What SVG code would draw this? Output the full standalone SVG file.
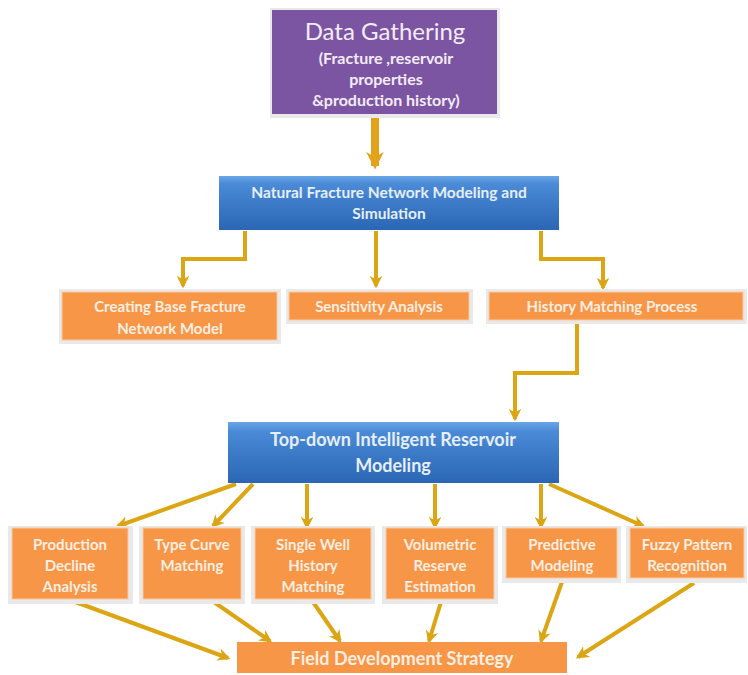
<svg xmlns="http://www.w3.org/2000/svg" width="748" height="675" viewBox="0 0 748 675">
<defs>
<linearGradient id="blue" x1="0" y1="0" x2="0" y2="1">
<stop offset="0" stop-color="#6aa6e6"/>
<stop offset="0.15" stop-color="#4a8ad6"/>
<stop offset="1" stop-color="#2a66b4"/>
</linearGradient>
<marker id="ah" viewBox="0 0 10 10" refX="8" refY="5" markerWidth="3.2" markerHeight="3.2" orient="auto" markerUnits="strokeWidth">
<path d="M0,0 L10,5 L0,10 L3,5 z" fill="#dca514"/>
</marker>
<marker id="ahb" viewBox="0 0 10 10" refX="8" refY="5" markerWidth="2.2" markerHeight="2.2" orient="auto" markerUnits="strokeWidth">
<path d="M0,0 L10,5 L0,10 L3,5 z" fill="#e2a21a"/>
</marker>
</defs>
<style>
.sh{fill:#e9e9e9}
.or{fill:#f79646;stroke:#fbc9a3;stroke-width:1}
.bl{fill:url(#blue)}
.t{font-family:Lato,"Open Sans",sans-serif;font-weight:bold;text-anchor:middle;fill:#fdeee2;font-size:15px}
.tb{font-family:Lato,"Open Sans",sans-serif;font-weight:bold;text-anchor:middle;fill:#e6eef8}
.tp{font-family:Lato,"Open Sans",sans-serif;font-weight:bold;text-anchor:middle;fill:#f3ecf8;font-size:16px}
.c{fill:none;stroke:#dca514;stroke-width:4;marker-end:url(#ah)}
</style>
<rect width="748" height="675" fill="#ffffff"/>

<g id="connectors">
<line x1="375" y1="116" x2="375" y2="166" stroke="#e2a21a" stroke-width="8" marker-end="url(#ahb)"/>
<polyline class="c" points="245,231 245,259 183,259 183,286"/>
<polyline class="c" points="376,231 376,286"/>
<polyline class="c" points="541,231 541,259 603,259 603,288"/>
<polyline class="c" points="577,321 577,373 515,373 515,419"/>
<line class="c" x1="236" y1="484" x2="118" y2="526"/>
<line class="c" x1="253" y1="484" x2="213" y2="526"/>
<line class="c" x1="307" y1="484" x2="307" y2="527"/>
<line class="c" x1="435" y1="484" x2="435" y2="527"/>
<line class="c" x1="541" y1="484" x2="541" y2="527"/>
<line class="c" x1="549" y1="484" x2="643" y2="526"/>
<line class="c" x1="70" y1="600" x2="228" y2="658"/>
<line class="c" x1="211" y1="600" x2="270" y2="641"/>
<line class="c" x1="313" y1="602" x2="340" y2="641"/>
<line class="c" x1="441" y1="602" x2="429" y2="641"/>
<line class="c" x1="562" y1="582" x2="541" y2="641"/>
<line class="c" x1="694" y1="583" x2="578" y2="657"/>
</g>

<g id="data-gathering">
<rect x="270" y="8" width="230" height="110" class="sh"/>
<rect x="272" y="10" width="225" height="104" fill="#7c55a2"/>
<text x="385" y="40" font-family="Lato,'Open Sans',sans-serif" font-size="24" text-anchor="middle" fill="#f3ecf8">Data Gathering</text>
<text x="386" y="64" class="tp">(Fracture ,reservoir</text>
<text x="386" y="85" class="tp">properties</text>
<text x="386" y="106" class="tp">&amp;production history)</text>
</g>

<g id="nfn-modeling">
<rect x="219" y="176" width="340" height="54" class="bl"/>
<text x="389" y="198" class="tb" font-size="15.5">Natural Fracture Network Modeling and</text>
<text x="389" y="219" class="tb" font-size="15.5">Simulation</text>
</g>

<g id="creating-base">
<rect x="59" y="289" width="222" height="55" class="sh"/>
<rect x="62" y="292" width="215" height="48" class="or"/>
<text x="170" y="312" class="t">Creating Base Fracture</text>
<text x="170" y="334" class="t">Network Model</text>
</g>

<g id="sensitivity">
<rect x="286" y="289" width="187" height="35" class="sh"/>
<rect x="289" y="292" width="180" height="28" class="or"/>
<text x="379" y="312" class="t">Sensitivity Analysis</text>
</g>

<g id="history-matching">
<rect x="486" y="289" width="261" height="35" class="sh"/>
<rect x="489" y="292" width="254" height="28" class="or"/>
<text x="612" y="312" class="t">History Matching Process</text>
</g>

<g id="top-down">
<rect x="228" y="422" width="331" height="61" class="bl"/>
<text x="393" y="446" class="tb" font-size="18">Top-down Intelligent Reservoir</text>
<text x="393" y="472" class="tb" font-size="18">Modeling</text>
</g>

<g id="production-decline">
<rect x="8" y="526" width="125" height="78" class="sh"/>
<rect x="12" y="528" width="116" height="71" class="or"/>
<text x="70" y="550" class="t">Production</text>
<text x="70" y="571" class="t">Decline</text>
<text x="70" y="592" class="t">Analysis</text>
</g>

<g id="type-curve">
<rect x="139" y="526" width="106" height="78" class="sh"/>
<rect x="143" y="528" width="98" height="71" class="or"/>
<text x="192" y="550" class="t">Type Curve</text>
<text x="192" y="571" class="t">Matching</text>
</g>

<g id="single-well">
<rect x="251" y="526" width="124" height="78" class="sh"/>
<rect x="255" y="528" width="116" height="71" class="or"/>
<text x="313" y="550" class="t">Single Well</text>
<text x="313" y="571" class="t">History</text>
<text x="313" y="592" class="t">Matching</text>
</g>

<g id="volumetric">
<rect x="382" y="526" width="116" height="78" class="sh"/>
<rect x="386" y="528" width="108" height="71" class="or"/>
<text x="440" y="550" class="t">Volumetric</text>
<text x="440" y="571" class="t">Reserve</text>
<text x="440" y="592" class="t">Estimation</text>
</g>

<g id="predictive">
<rect x="502" y="526" width="119" height="57" class="sh"/>
<rect x="506" y="528" width="111" height="50" class="or"/>
<text x="562" y="550" class="t">Predictive</text>
<text x="562" y="571" class="t">Modeling</text>
</g>

<g id="fuzzy">
<rect x="626" y="526" width="121" height="57" class="sh"/>
<rect x="630" y="528" width="114" height="50" class="or"/>
<text x="687" y="550" class="t">Fuzzy Pattern</text>
<text x="687" y="571" class="t">Recognition</text>
</g>

<g id="field-development">
<rect x="237" y="642" width="330" height="31" fill="#f79646"/>
<text x="402" y="665" class="t" style="font-size:18px">Field Development Strategy</text>
</g>
</svg>
